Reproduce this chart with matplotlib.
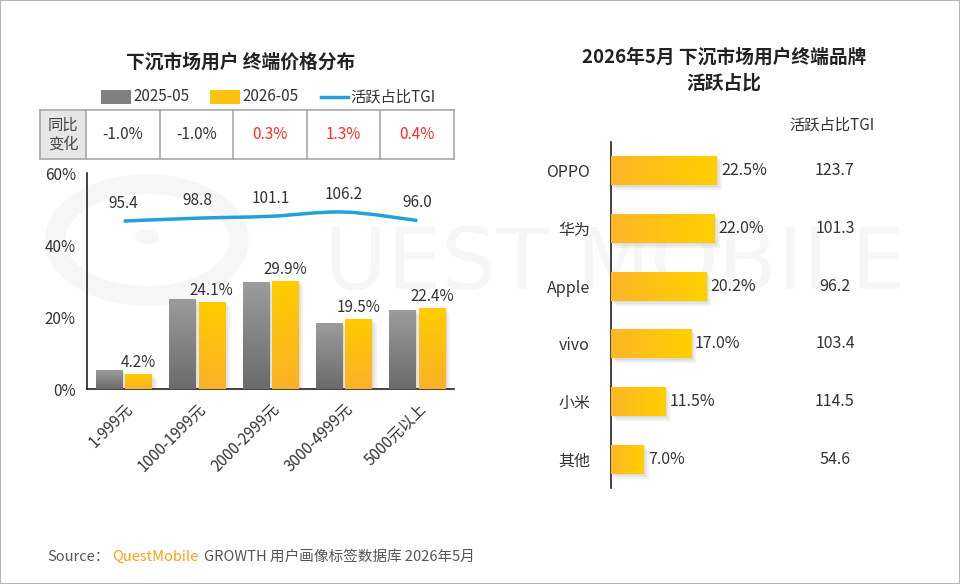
import numpy as np
import matplotlib
matplotlib.use("Agg")
import matplotlib.pyplot as plt
from matplotlib.colors import LinearSegmentedColormap
from matplotlib.patches import Rectangle, Circle, PathPatch
from matplotlib.path import Path
from matplotlib.transforms import ScaledTranslation, blended_transform_factory

plt.rcParams['font.family'] = ['Noto Sans CJK SC', 'DejaVu Sans']

# ---- data ----
price_cats = ['1-999元', '1000-1999元', '2000-2999元', '3000-4999元', '5000元以上']
share_2025 = [5.2, 25.1, 29.6, 18.2, 22.0]
share_2026 = [4.2, 24.1, 29.9, 19.5, 22.4]
tgi_price = [95.4, 98.8, 101.1, 106.2, 96.0]
yoy = [-1.0, -1.0, 0.3, 1.3, 0.4]

brands = ['OPPO', '华为', 'Apple', 'vivo', '小米', '其他']
brand_share = [22.5, 22.0, 20.2, 17.0, 11.5, 7.0]
brand_tgi = [123.7, 101.3, 96.2, 103.4, 114.5, 54.6]

W, H = 960, 584
fig = plt.figure(figsize=(W / 100, H / 100), dpi=100)


def fx(x):
    return x / W


def fy(y):
    return 1 - y / H


TXT = '#333333'
WM = '#f6f6f6'
gray_cm = LinearSegmentedColormap.from_list('g', ['#6b6b6b', '#9c9c9c'])
yel_cm = LinearSegmentedColormap.from_list('y', ['#fbb128', '#ffcc00'])
hyel_cm = LinearSegmentedColormap.from_list('hy', ['#fdb627', '#ffd000'])

# ---- watermark (behind everything) ----
fig.patches.append(Circle((fx(147), fy(240)), 92 / W, transform=fig.transFigure,
                          fill=False, lw=14, ec=WM, zorder=-5))
fig.patches.append(Circle((fx(147), fy(237)), 12 / W, transform=fig.transFigure,
                          fc=WM, ec='none', zorder=-5))
fig.text(fx(615), fy(265), 'UEST MOBILE', fontsize=62, family='DejaVu Sans',
         color=WM, ha='center', va='center', zorder=-5)

# border
fig.patches.append(Rectangle((0, 0), 1, 1, transform=fig.transFigure, fill=False,
                             ec='#b5b5b5', lw=1.5, zorder=10))


def shadow(ax, patch, zorder):
    for i, a in [(5, 0.25), (3, 0.35), (1.5, 0.45)]:
        r = Rectangle(patch.get_xy(), patch.get_width(), patch.get_height(),
                      fc='#cfcfcf', ec='none', alpha=a, zorder=zorder,
                      transform=ax.transData + ScaledTranslation(i / 100, -i / 100, fig.dpi_scale_trans))
        ax.add_patch(r)


def grad_fill(ax, patch, cmap, vertical=True, zorder=3):
    x0, y0 = patch.get_xy()
    x1, y1 = x0 + patch.get_width(), y0 + patch.get_height()
    g = np.linspace(0, 1, 64)
    arr = g.reshape(-1, 1) if vertical else g.reshape(1, -1)
    im = ax.imshow(arr, extent=(x0, x1, min(y0, y1), max(y0, y1)), origin='lower',
                   aspect='auto', cmap=cmap, zorder=zorder, interpolation='bilinear')
    im.set_clip_path(patch)
    patch.set_facecolor('none')


# ---- left chart ----
fig.text(fx(241), fy(62), '下沉市场用户 终端价格分布', fontsize=13.5, fontweight='bold',
         color='#222222', ha='center', va='center')

ax = fig.add_axes([fx(87), fy(389), (454 - 87) / W, (389 - 173) / H])
ax.set_facecolor('none')
x = np.arange(len(price_cats))
bw = 0.36
b1 = ax.bar(x - 0.2, share_2025, bw, ec='none', zorder=3)
b2 = ax.bar(x + 0.2, share_2026, bw, ec='none', zorder=3)
for p in b1:
    shadow(ax, p, 2)
    grad_fill(ax, p, gray_cm)
for p in b2:
    shadow(ax, p, 2)
    grad_fill(ax, p, yel_cm)
for xi, v in zip(x, share_2026):
    ax.text(xi + 0.2, v + 0.8, f'{v:.1f}%', ha='center', va='bottom', fontsize=11, color=TXT)
ax.set_xlim(-0.5, 4.5)
ax.set_ylim(0, 60)
ax.set_yticks([0, 20, 40, 60])
ax.set_yticklabels(['0%', '20%', '40%', '60%'])
ax.set_xticks(x)
ax.set_xticklabels(price_cats, rotation=45, ha='right', rotation_mode='anchor')
ax.tick_params(length=0, labelsize=11, labelcolor=TXT, pad=8)
for s in ['top', 'right']:
    ax.spines[s].set_visible(False)
for s in ['left', 'bottom']:
    ax.spines[s].set_color('#222222')
    ax.spines[s].set_linewidth(1.2)

# TGI line on secondary axis, smooth curve through the points
ax2 = ax.twinx()
ax2.set_ylim(-106, 153)
ax2.axis('off')
pts = np.column_stack([x, tgi_price]).astype(float)
verts = [pts[0]]
codes = [Path.MOVETO]
for i in range(len(pts) - 1):
    p0 = pts[max(i - 1, 0)]
    p1, p2 = pts[i], pts[i + 1]
    p3 = pts[min(i + 2, len(pts) - 1)]
    verts += [p1 + (p2 - p0) / 6, p2 - (p3 - p1) / 6, p2]
    codes += [Path.CURVE4] * 3
ax2.add_patch(PathPatch(Path(verts, codes), fill=False, ec='#21a0db', lw=2.5, zorder=5))
for xi, v in zip(x, tgi_price):
    ax2.annotate(f'{v:.1f}', (xi, v), xytext=(0, 18), textcoords='offset pixels',
                 ha='center', va='center', fontsize=11, color=TXT)

# legend
fig.patches.append(Rectangle((fx(101), fy(104)), 30 / W, 14 / H, transform=fig.transFigure,
                             fc='#808080', ec='none'))
fig.text(fx(133), fy(97), '2025-05', fontsize=11, color=TXT, va='center')
fig.patches.append(Rectangle((fx(210), fy(104)), 30 / W, 14 / H, transform=fig.transFigure,
                             fc='#ffc20e', ec='none'))
fig.text(fx(242), fy(97), '2026-05', fontsize=11, color=TXT, va='center')
fig.lines.append(plt.Line2D([fx(321), fx(348)], [fy(97), fy(97)], transform=fig.transFigure,
                            color='#21a0db', lw=2.5))
fig.text(fx(350), fy(97), '活跃占比TGI', fontsize=11, color=TXT, va='center')

# yoy table
tax = fig.add_axes([fx(40), fy(159), (454 - 40) / W, (159 - 110) / H])
tax.set_facecolor('none')
left = -0.5 - 46 / 73.4
tax.set_xlim(left, 4.5)
tax.set_ylim(0, 1)
tax.axis('off')
tax.add_patch(Rectangle((left, 0), -0.5 - left, 1, fc='#e6e6e6', ec='none'))
bc = '#a8a8a8'
tax.plot([left, 4.5], [0, 0], color=bc, lw=1.2, clip_on=False)
tax.plot([left, 4.5], [1, 1], color=bc, lw=1.2, clip_on=False)
for xv in [left] + list(np.arange(-0.5, 5, 1.0)):
    tax.plot([xv, xv], [0, 1], color=bc, lw=1.2, clip_on=False)
tax.text((left - 0.5) / 2, 0.5, '同比\n变化', ha='center', va='center', fontsize=11,
         color='#444444', linespacing=1.1)
for xi, v in zip(x, yoy):
    tax.text(xi, 0.5, f'{v:.1f}%', ha='center', va='center', fontsize=11,
             color='#ff2a2a' if v > 0 else TXT)

# ---- right chart ----
fig.text(fx(724), fy(57), '2026年5月 下沉市场用户终端品牌', fontsize=13.5, fontweight='bold',
         color='#222222', ha='center', va='center')
fig.text(fx(724), fy(83), '活跃占比', fontsize=13.5, fontweight='bold',
         color='#222222', ha='center', va='center')

bx = fig.add_axes([fx(611), fy(488), 200 / W, (488 - 142) / H])
bx.set_facecolor('none')
y = np.arange(len(brands))
hb = bx.barh(y, brand_share, 0.5, ec='none', zorder=3)
for p in hb:
    shadow(bx, p, 2)
    grad_fill(bx, p, hyel_cm, vertical=False)
for yi, v in zip(y, brand_share):
    bx.annotate(f'{v:.1f}%', (v, yi), xytext=(4, 0), textcoords='offset pixels',
                ha='left', va='center', fontsize=11.5, color=TXT)
bx.set_xlim(0, 200 / 4.71)
bx.set_ylim(5.5, -0.5)
bx.set_yticks(y)
bx.set_yticklabels(brands)
bx.set_xticks([])
bx.tick_params(length=0, labelsize=11.5, labelcolor=TXT, pad=15)
for s in ['top', 'right', 'bottom']:
    bx.spines[s].set_visible(False)
bx.spines['left'].set_color('#222222')
bx.spines['left'].set_linewidth(1.2)

tr = blended_transform_factory(fig.transFigure, bx.transData)
for yi, v in zip(y, brand_tgi):
    bx.text(fx(835), yi, f'{v:.1f}', transform=tr, ha='center', va='center',
            fontsize=11.5, color=TXT)
fig.text(fx(832), fy(125), '活跃占比TGI', fontsize=11, color=TXT, ha='center', va='center')

# ---- source ----
fig.text(fx(47), fy(557), 'Source：', fontsize=10.5, color='#555555', va='center')
fig.text(fx(112), fy(557), 'QuestMobile', fontsize=10.5, color='#f7a11a', va='center')
fig.text(fx(204), fy(557), 'GROWTH 用户画像标签数据库 2026年5月', fontsize=10.5,
         color='#555555', va='center')

fig.savefig('out.png', dpi=100)
